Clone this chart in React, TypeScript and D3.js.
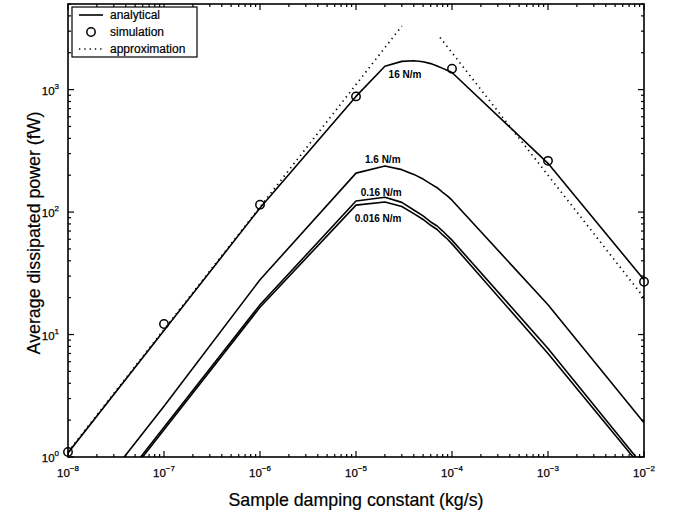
import React from "react";
import * as d3 from "d3";

const X_VALS = [1e-8, 1e-7, 1e-6, 1e-5, 2e-5, 3e-5, 4e-5, 5e-5, 6e-5, 7e-5, 8e-5, 9e-5, 1e-4, 1e-3, 1e-2];
const P_16 = [1.08, 10.8, 108, 880, 1550, 1700, 1720, 1690, 1630, 1560, 1490, 1430, 1380, 250, 28];
const P_1_6 = [0.26, 2.6, 28, 208, 238, 222, 203, 186, 170, 158, 145, 135, 125, 17.5, 1.9];
const P_0_16 = [0.175, 1.75, 17.5, 123, 132, 120, 104, 93, 83, 77, 70, 64, 59, 7.7, 0.83];
const P_0_016 = [0.167, 1.67, 16.7, 114, 121, 111, 97, 87, 78, 72, 65, 60, 55, 7.0, 0.78];

const SIM_X = [1e-8, 1e-7, 1e-6, 1e-5, 1e-4, 1e-3, 1e-2];
const SIM_Y = [1.1, 12.2, 115, 880, 1480, 262, 27];

const APPROX_LEFT_X = [1e-8, 3e-5];
const APPROX_LEFT_Y = [1.1, 3300];
const APPROX_RIGHT_X = [7.5e-5, 1e-2];
const APPROX_RIGHT_Y = [2667, 20];

const CURVE_LABELS = ["16 N/m", "1.6 N/m", "0.16 N/m", "0.016 N/m"];
const LABEL_X = [3.24e-5, 1.9e-5, 1.83e-5, 1.7e-5];
const LABEL_Y = [1242, 251, 135, 83];

const X_DECADES = [-8, -7, -6, -5, -4, -3, -2];
const Y_DECADES = [0, 1, 2, 3];

const LEGEND_LABELS = ["analytical", "simulation", "approximation"];

const W = 678;
const H = 516;
const L = 68, R = 644, T = 4, B = 457;

export default function App() {
  const x = d3.scaleLog().domain([1e-8, 1e-2]).range([L, R]);
  const y = d3.scaleLog().domain([1, 5000]).range([B, T]);
  const line = d3
    .line<[number, number]>()
    .x((d) => x(d[0]))
    .y((d) => y(d[1]));

  const curves = [P_16, P_1_6, P_0_16, P_0_016].map((arr) =>
    X_VALS.map((v, i) => [v, arr[i]] as [number, number])
  );
  const approx = [
    APPROX_LEFT_X.map((v, i) => [v, APPROX_LEFT_Y[i]] as [number, number]),
    APPROX_RIGHT_X.map((v, i) => [v, APPROX_RIGHT_Y[i]] as [number, number]),
  ];

  const xMinor: number[] = [];
  X_DECADES.slice(0, -1).forEach((e) => {
    for (let k = 2; k <= 9; k++) xMinor.push(k * Math.pow(10, e));
  });
  const yMinor: number[] = [];
  Y_DECADES.forEach((e) => {
    for (let k = 2; k <= 9; k++) {
      const v = k * Math.pow(10, e);
      if (v <= 5000) yMinor.push(v);
    }
  });

  const font = "'Liberation Sans', Arial, Helvetica, sans-serif";
  const major = 6, minor = 3;

  return (
    <svg width={W} height={H} style={{ position: "absolute", left: 0, top: 0, background: "#fff" }} fontFamily={font}>
      <defs>
        <clipPath id="plotclip">
          <rect x={L} y={T} width={R - L} height={B - T} />
        </clipPath>
      </defs>
      <rect x={0} y={0} width={W} height={H} fill="#fff" />

      {/* ticks */}
      <g stroke="#000" strokeWidth={1.2}>
        {X_DECADES.map((e) => {
          const px = x(Math.pow(10, e));
          return (
            <g key={"xm" + e}>
              <line x1={px} x2={px} y1={B} y2={B - major} />
              <line x1={px} x2={px} y1={T} y2={T + major} />
            </g>
          );
        })}
        {xMinor.map((v, i) => (
          <g key={"xn" + i}>
            <line x1={x(v)} x2={x(v)} y1={B} y2={B - minor} />
            <line x1={x(v)} x2={x(v)} y1={T} y2={T + minor} />
          </g>
        ))}
        {Y_DECADES.map((e) => {
          const py = y(Math.pow(10, e));
          return (
            <g key={"ym" + e}>
              <line x1={L} x2={L + major} y1={py} y2={py} />
              <line x1={R} x2={R - major} y1={py} y2={py} />
            </g>
          );
        })}
        {yMinor.map((v, i) => (
          <g key={"yn" + i}>
            <line x1={L} x2={L + minor} y1={y(v)} y2={y(v)} />
            <line x1={R} x2={R - minor} y1={y(v)} y2={y(v)} />
          </g>
        ))}
      </g>

      {/* data */}
      <g clipPath="url(#plotclip)">
        {curves.map((c, i) => (
          <path key={"c" + i} d={line(c) || ""} fill="none" stroke="#000" strokeWidth={1.6} strokeLinejoin="round" />
        ))}
        {approx.map((c, i) => (
          <path key={"a" + i} d={line(c) || ""} fill="none" stroke="#000" strokeWidth={1.7} strokeDasharray="1.3 4" />
        ))}
      </g>
      {SIM_X.map((v, i) => (
        <circle key={"s" + i} cx={x(v)} cy={y(SIM_Y[i])} r={4.2} fill="none" stroke="#000" strokeWidth={1.5} />
      ))}

      {/* curve labels */}
      {CURVE_LABELS.map((t, i) => (
        <text key={"l" + i} x={x(LABEL_X[i])} y={y(LABEL_Y[i])} textAnchor="middle" fontSize={10} fontWeight="bold">
          {t}
        </text>
      ))}

      {/* frame */}
      <rect x={L} y={T} width={R - L} height={B - T} fill="none" stroke="#000" strokeWidth={1.6} />

      {/* tick labels */}
      {X_DECADES.map((e) => (
        <text key={"xl" + e} x={x(Math.pow(10, e))} y={B + 20} textAnchor="middle" fontSize={11.5} stroke="#000" strokeWidth={0.25}>
          10
          <tspan dy={-6} fontSize={8}>
            {"\u2212" + Math.abs(e)}
          </tspan>
        </text>
      ))}
      {Y_DECADES.map((e) => (
        <text key={"yl" + e} x={L - 9} y={y(Math.pow(10, e)) + 5} textAnchor="end" fontSize={11.5} stroke="#000" strokeWidth={0.25}>
          10
          <tspan dy={-6} fontSize={8}>
            {String(e)}
          </tspan>
        </text>
      ))}

      {/* axis titles */}
      <text x={356} y={506} textAnchor="middle" fontSize={17.8} stroke="#000" strokeWidth={0.2}>
        Sample damping constant (kg/s)
      </text>
      <text transform={`translate(40,233) rotate(-90)`} textAnchor="middle" fontSize={17.8} stroke="#000" strokeWidth={0.2}>
        Average dissipated power (fW)
      </text>

      {/* legend */}
      <g>
        <rect x={72} y={7} width={125} height={50} fill="#fff" stroke="#000" strokeWidth={1.2} />
        <line x1={79} x2={103} y1={15} y2={15} stroke="#000" strokeWidth={1.6} />
        <circle cx={91} cy={32} r={4.2} fill="none" stroke="#000" strokeWidth={1.5} />
        <line x1={79} x2={103} y1={49} y2={49} stroke="#000" strokeWidth={1.7} strokeDasharray="1.3 4" />
        {LEGEND_LABELS.map((t, i) => (
          <text key={"lg" + i} x={110} y={19 + i * 17} fontSize={12} stroke="#000" strokeWidth={0.2}>
            {t}
          </text>
        ))}
      </g>
    </svg>
  );
}
